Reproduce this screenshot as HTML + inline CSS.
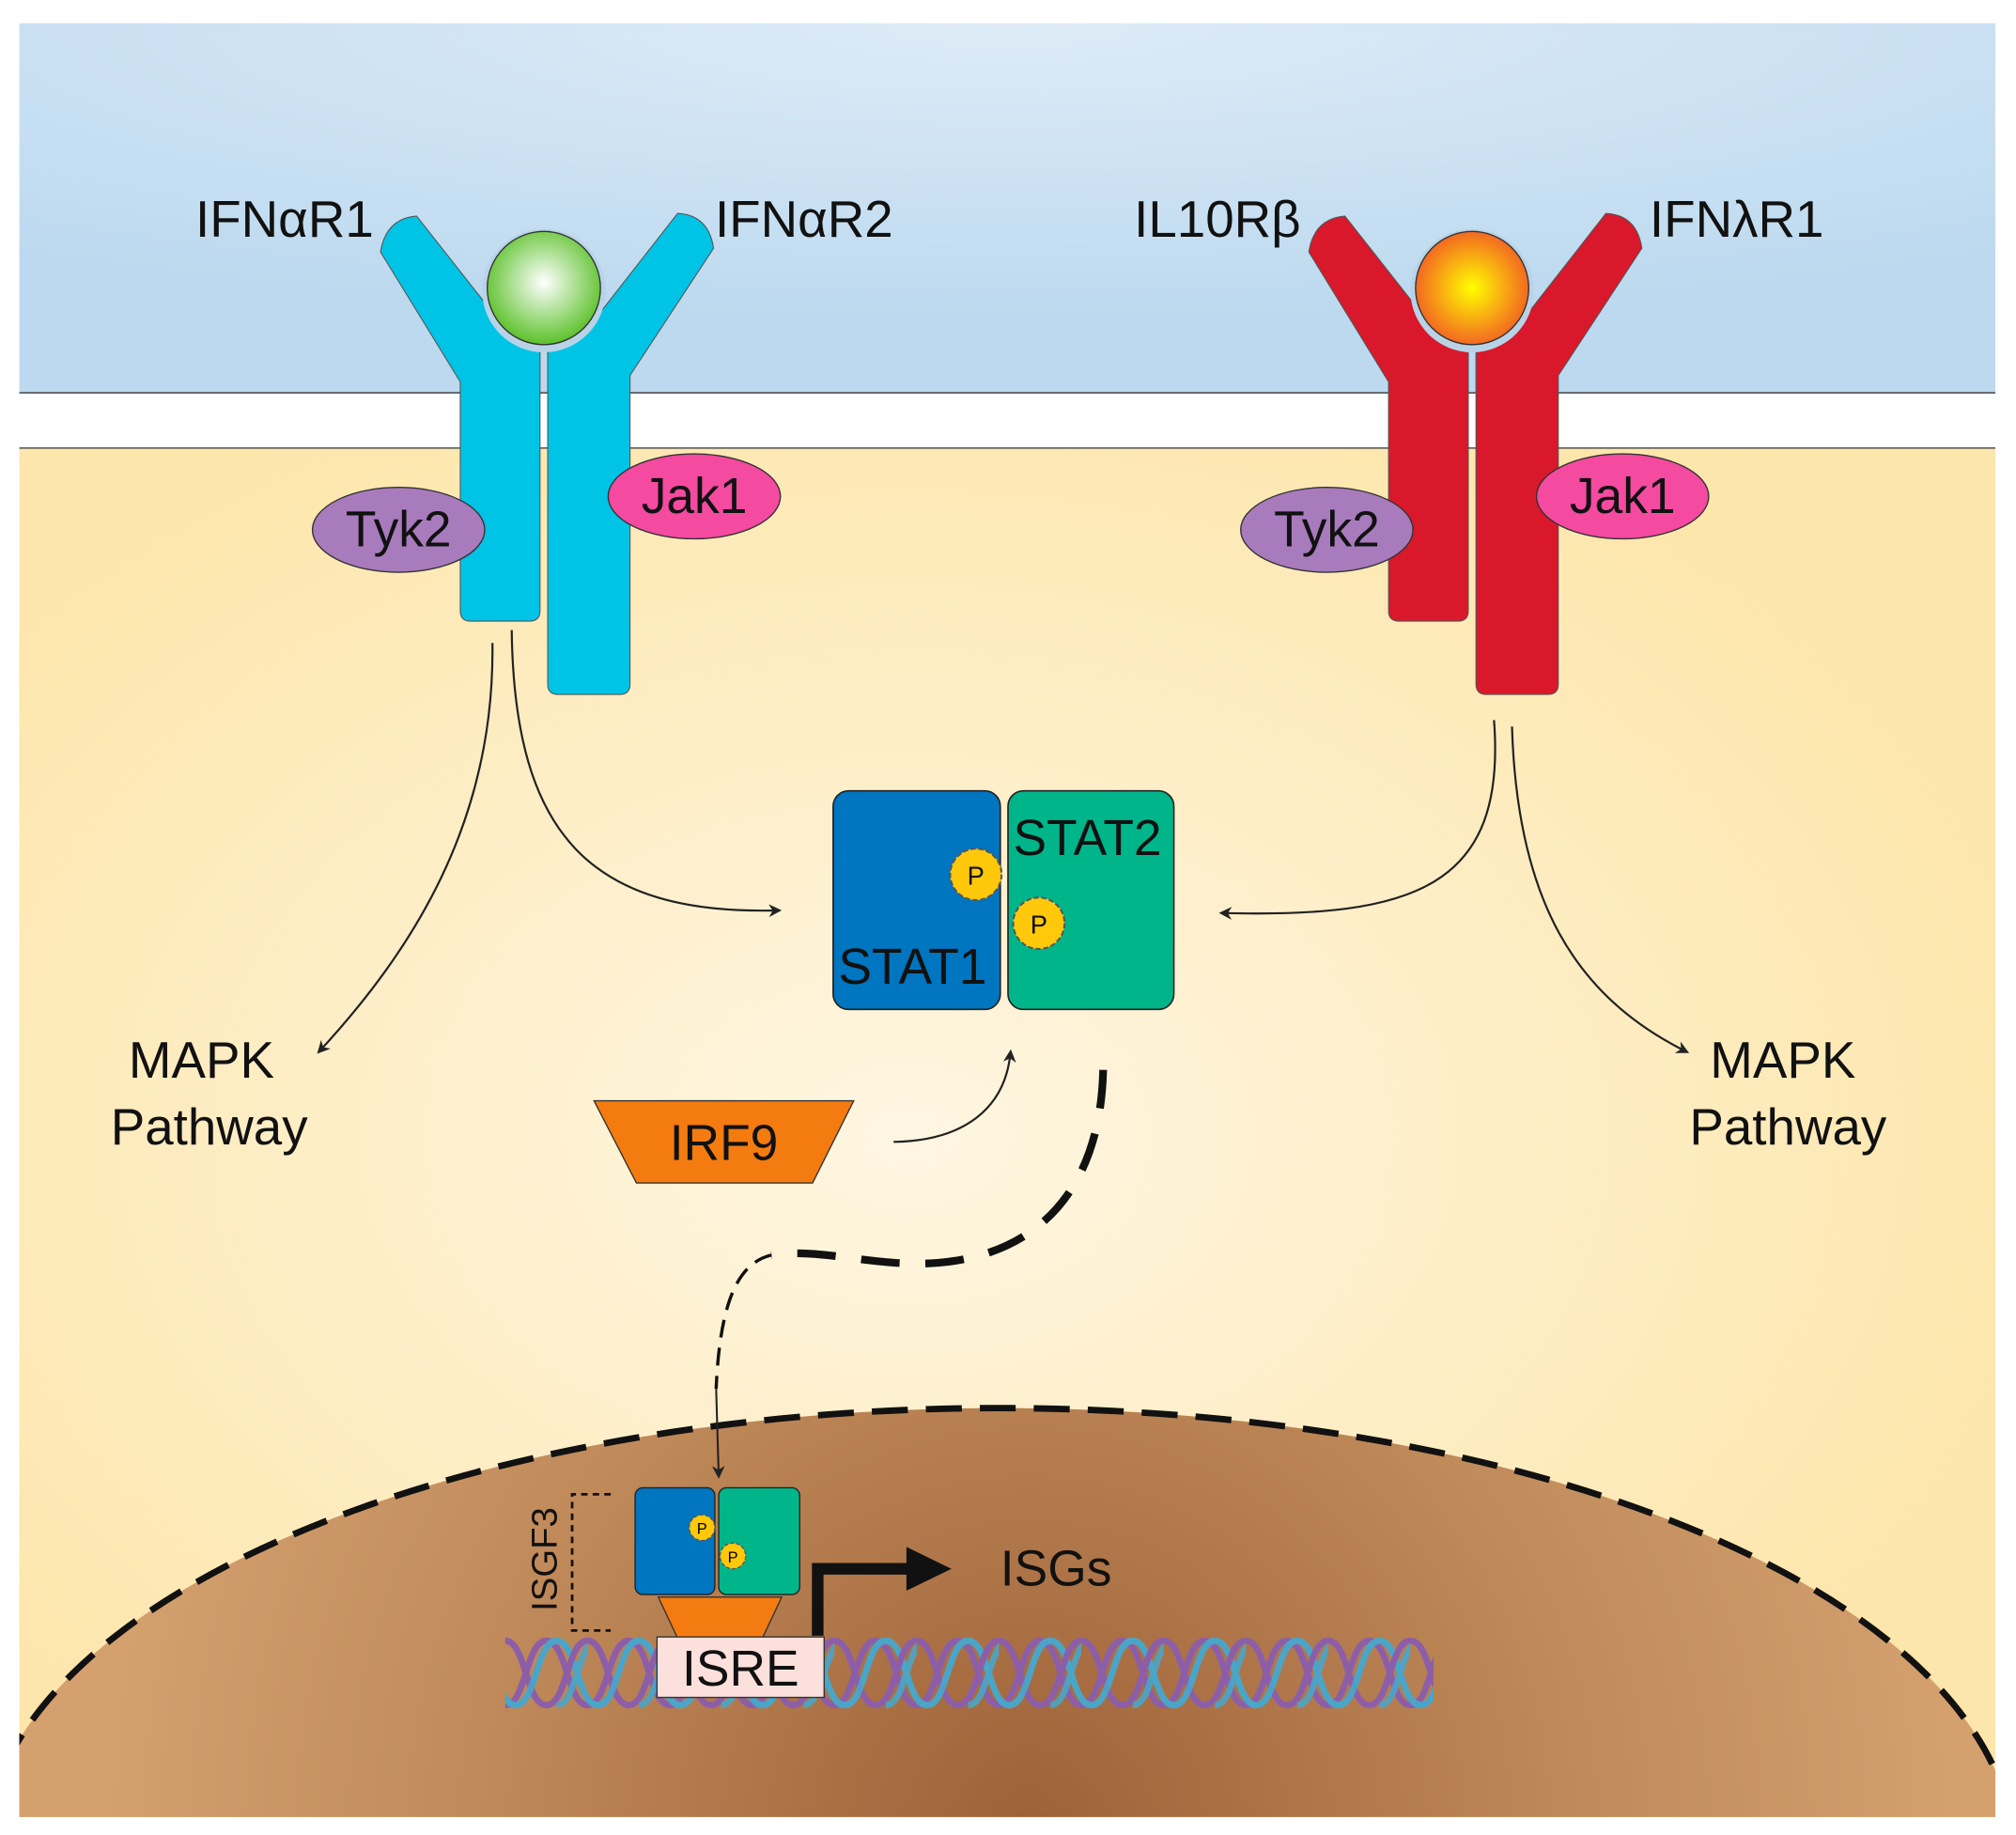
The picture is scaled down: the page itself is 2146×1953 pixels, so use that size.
<!DOCTYPE html>
<html><head><meta charset="utf-8"><style>html,body{margin:0;padding:0;background:#fff;width:2146px;height:1953px;overflow:hidden}svg{display:block}text{font-family:"Liberation Sans",sans-serif}</style></head><body>
<svg width="2146" height="1953" viewBox="0 0 1568 1427" preserveAspectRatio="none" xmlns="http://www.w3.org/2000/svg">
<defs>
<radialGradient id="sky" cx="0.5" cy="0" r="0.8"><stop offset="0" stop-color="#deebf7"/><stop offset="1" stop-color="#bcd9ef"/></radialGradient>
<radialGradient id="cyto" cx="0.45" cy="0.5" r="0.6"><stop offset="0" stop-color="#fef6e2"/><stop offset="1" stop-color="#fde6ab"/></radialGradient>
<radialGradient id="nuc" gradientUnits="userSpaceOnUse" cx="800" cy="1420" r="720"><stop offset="0" stop-color="#9e6238"/><stop offset="0.6" stop-color="#c08a5a"/><stop offset="1" stop-color="#d4a06e"/></radialGradient>
<radialGradient id="gl" cx="0.5" cy="0.45" r="0.55"><stop offset="0" stop-color="#fff"/><stop offset="1" stop-color="#5cc12a"/></radialGradient>
<radialGradient id="ol" cx="0.5" cy="0.5" r="0.55"><stop offset="0" stop-color="#ffff00"/><stop offset="1" stop-color="#f15a24"/></radialGradient>
<clipPath id="cl"><rect x="15" y="18" width="1537" height="1395"/></clipPath>
<pattern id="dna" patternUnits="userSpaceOnUse" x="393" y="1270" width="64" height="62">
<path d="M0,56 C16,56 16,6 32,6 C48,6 48,56 64,56" fill="none" stroke="#8d5ea8" stroke-width="5"/>
<path d="M8,56 C24,56 24,6 40,6 C56,6 56,56 72,56 M-56,56 C-40,56 -40,6 -24,6 C-8,6 -8,56 8,56" fill="none" stroke="#4aa6c8" stroke-width="5"/>
<path d="M32,56 C48,56 48,6 64,6 M0,6 C16,6 16,56 32,56" fill="none" stroke="#8d5ea8" stroke-width="5"/>
<path d="M40,56 C56,56 56,6 72,6 M-24,6 C-8,6 -8,56 8,56 C24,56 24,6 40,6" fill="none" stroke="#4aa6c8" stroke-width="5" opacity="0.9"/>
</pattern>
<marker id="ah" markerWidth="10" markerHeight="10" refX="8" refY="5" orient="auto" markerUnits="userSpaceOnUse" viewBox="0 0 10 10"><path d="M0,0 L10,5 L0,10 L3,5 Z" fill="#222"/></marker>
</defs>
<rect width="1568" height="1427" fill="#fff"/>
<g clip-path="url(#cl)">
<rect x="15" y="18" width="1537" height="288" fill="url(#sky)"/>
<rect x="15" y="305" width="1537" height="43" fill="#fff"/>
<line x1="15" y1="305.5" x2="1552" y2="305.5" stroke="#333" stroke-width="1"/>
<line x1="15" y1="348.5" x2="1552" y2="348.5" stroke="#333" stroke-width="1"/>
<rect x="15" y="349" width="1537" height="1070" fill="url(#cyto)"/>
<ellipse cx="777" cy="1445" rx="790" ry="350" fill="url(#nuc)" stroke="#111" stroke-width="5" stroke-dasharray="28 14"/>
</g>
<g fill="#00c4e6" stroke="#555" stroke-width="0.8" stroke-linejoin="round">
<path d="M296,196 Q300,170 324,168 L398,262 L420,272 L420,475 Q420,483 412,483 L366,483 Q358,483 358,475 L358,297 Z"/>
<path d="M555,193 Q551,167 527,166 L452,262 L426,274 L426,532 Q426,540 434,540 L482,540 Q490,540 490,532 L490,292 Z"/>
</g>
<g fill="#d9182b" stroke="#555" stroke-width="0.8" stroke-linejoin="round" transform="translate(722,0)">
<path d="M296,196 Q300,170 324,168 L398,262 L420,272 L420,475 Q420,483 412,483 L366,483 Q358,483 358,475 L358,297 Z"/>
<path d="M555,193 Q551,167 527,166 L452,262 L426,274 L426,532 Q426,540 434,540 L482,540 Q490,540 490,532 L490,292 Z"/>
</g>
<circle cx="423" cy="226" r="48" fill="#b9d3e6"/>
<circle cx="423" cy="224" r="44" fill="url(#gl)" stroke="#333" stroke-width="1"/>
<circle cx="1145" cy="226" r="48" fill="#b9d3e6"/>
<circle cx="1145" cy="224" r="44" fill="url(#ol)" stroke="#333" stroke-width="1"/>
<g stroke="#333" stroke-width="1">
<ellipse cx="310" cy="412" rx="67" ry="33" fill="#a87bbd"/>
<ellipse cx="540" cy="386" rx="67" ry="33" fill="#f44aa0"/>
<ellipse cx="1032" cy="412" rx="67" ry="33" fill="#a87bbd"/>
<ellipse cx="1262" cy="386" rx="67" ry="33" fill="#f44aa0"/>
</g>
<g font-size="39" fill="#111" text-anchor="middle">
<text x="310" y="425">Tyk2</text><text x="540" y="399">Jak1</text>
<text x="1032" y="425">Tyk2</text><text x="1262" y="399">Jak1</text>
</g>
<g font-size="40" fill="#111">
<text x="152" y="184">IFNαR1</text><text x="556" y="184">IFNαR2</text>
<text x="882" y="184">IL10Rβ</text><text x="1283" y="184">IFNλR1</text>
<text x="100" y="838">MAPK</text><text x="86" y="890">Pathway</text>
<text x="1330" y="838">MAPK</text><text x="1314" y="890">Pathway</text>
</g>
<g fill="none" stroke="#222" stroke-width="1.6" marker-end="url(#ah)">
<path d="M383,500 C385,640 320,740 248,818"/>
<path d="M398,490 C400,650 460,712 606,708"/>
<path d="M1162,560 C1172,690 1100,714 950,710"/>
<path d="M1176,565 C1180,700 1225,775 1312,818"/>
<path d="M695,888 C750,887 782,862 786,818"/>
</g>
<rect x="648" y="615" width="130" height="170" rx="12" fill="#0075c0" stroke="#222" stroke-width="1.2"/>
<rect x="784" y="615" width="129" height="170" rx="12" fill="#00b58a" stroke="#222" stroke-width="1.2"/>
<circle cx="759" cy="680" r="20" fill="#ffc80a" stroke="#555" stroke-width="1.5" stroke-dasharray="4 2"/>
<circle cx="808" cy="718" r="20" fill="#ffc80a" stroke="#555" stroke-width="1.5" stroke-dasharray="4 2"/>
<text x="759" y="688" font-size="20" text-anchor="middle" fill="#111">P</text>
<text x="808" y="726" font-size="20" text-anchor="middle" fill="#111">P</text>
<text x="652" y="765" font-size="39" fill="#111">STAT1</text>
<text x="788" y="665" font-size="39" fill="#111">STAT2</text>
<path d="M462,856 L664,856 L632,920 L495,920 Z" fill="#f47b0f" stroke="#333" stroke-width="1"/>
<text x="563" y="902" font-size="39" text-anchor="middle" fill="#111">IRF9</text>
<path d="M858,832 C856,920 812,975 730,982 C680,986 640,970 600,976" fill="none" stroke="#111" stroke-width="6" stroke-dasharray="30 20"/>
<path d="M600,976 C575,982 560,1010 557,1080" fill="none" stroke="#111" stroke-width="2.5" stroke-dasharray="14 8"/>
<path d="M557,1080 L559,1148" fill="none" stroke="#222" stroke-width="1.5" marker-end="url(#ah)"/>
<rect x="393" y="1270" width="722" height="62" fill="url(#dna)"/>
<path d="M512,1242 L608,1242 L592,1276 L528,1276 Z" fill="#f47b0f" stroke="#333" stroke-width="1"/>
<rect x="494" y="1157" width="62" height="83" rx="6" fill="#0075c0" stroke="#222"/>
<rect x="559" y="1157" width="63" height="83" rx="6" fill="#00b58a" stroke="#222"/>
<circle cx="546" cy="1188" r="10" fill="#ffc80a" stroke="#555" stroke-dasharray="3 1.5"/>
<circle cx="570" cy="1210" r="10" fill="#ffc80a" stroke="#555" stroke-dasharray="3 1.5"/>
<text x="546" y="1193" font-size="12" text-anchor="middle">P</text>
<text x="570" y="1215" font-size="12" text-anchor="middle">P</text>
<rect x="511" y="1273" width="130" height="47" fill="#fbe0dc" stroke="#333"/>
<text x="576" y="1311" font-size="39" text-anchor="middle" fill="#111">ISRE</text>
<path d="M636,1272 L636,1220 L710,1220" fill="none" stroke="#111" stroke-width="9"/>
<path d="M705,1203 L740,1220 L705,1237 Z" fill="#111"/>
<text x="778" y="1233" font-size="39" fill="#111">ISGs</text>
<path d="M475,1162 L445,1162 L445,1268 L475,1268" fill="none" stroke="#111" stroke-width="2" stroke-dasharray="5 4"/>
<text x="0" y="0" font-size="28" fill="#111" transform="translate(433,1253) rotate(-90)">ISGF3</text>
</svg>
</body></html>
